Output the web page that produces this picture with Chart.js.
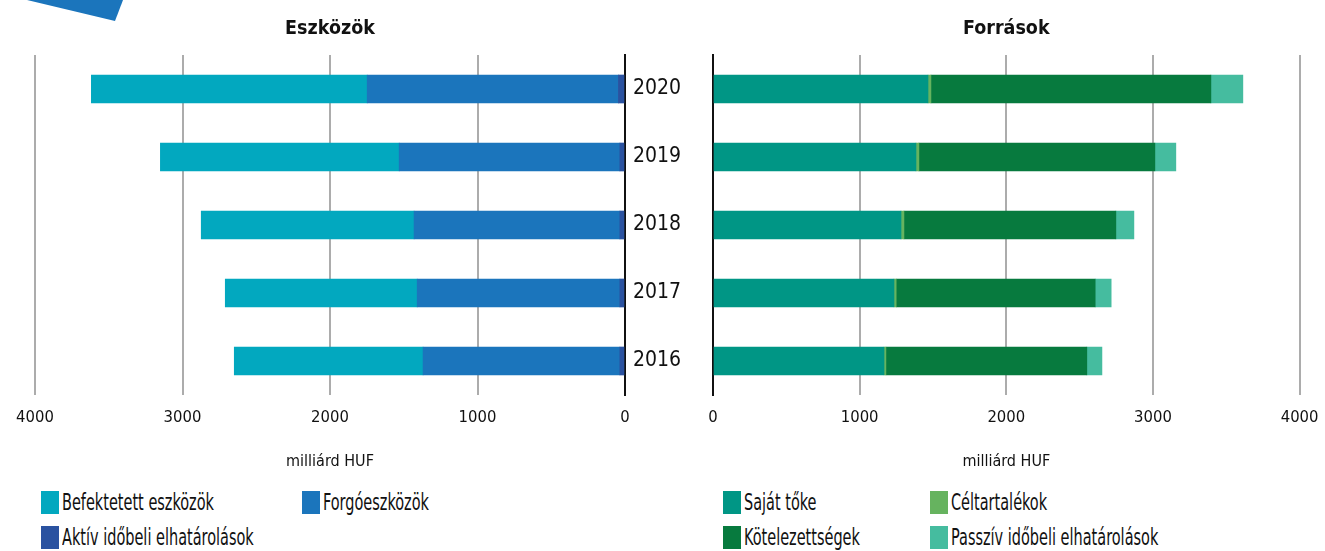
<!DOCTYPE html>
<html>
<head>
<meta charset="utf-8">
<script src="https://cdn.jsdelivr.net/npm/chart.js@4/dist/chart.umd.min.js"></script>
<style>
  html, body { margin: 0; padding: 0; background: #fff; }
  #wrap { position: relative; width: 1325px; height: 551px; overflow: hidden; }
  #left { position: absolute; left: 0; top: 0; }
  #right { position: absolute; left: 663px; top: 0; }
  .leg { position: absolute; display: flex; align-items: center; font-size: 23px; color: #111; white-space: nowrap; }
  .leg i { display: inline-block; width: 18px; height: 23px; margin-right: 3px; }
  .leg span { display: inline-block; transform: scaleX(0.7); transform-origin: left center; }
</style>
</head>
<body>
<div id="wrap">
  <svg width="140" height="30" style="position:absolute;left:0;top:0">
    <polygon points="27,0 123,0 115,21" fill="#1b75bc"/>
  </svg>
  <canvas id="left" width="713" height="480"></canvas>
  <canvas id="right" width="668" height="480"></canvas>
  <div id="legend"></div>
</div>
<script>
const years = ['2020', '2019', '2018', '2017', '2016'];

// Eszközök (milliárd HUF)
const befektetett = [1870, 1619, 1443, 1301, 1280];
const forgo = [1703, 1496, 1395, 1374, 1334];
const aktiv = [45, 35, 35, 35, 35];

// Források (milliárd HUF)
const sajatToke = [1466, 1384, 1282, 1234, 1166];
const celtartalek = [20, 20, 20, 15, 13];
const kotelezettseg = [1909, 1609, 1445, 1357, 1370];
const passziv = [218, 143, 123, 109, 103];

const axisTicks = [0, 1000, 2000, 3000, 4000];
const unit = 'milliárd HUF';

const FONT = "'Liberation Sans Narrow', 'DejaVu Sans Condensed', 'Open Sans', sans-serif";
Chart.defaults.font.family = FONT;
Chart.defaults.color = '#111';

// title centred over the plot area, not the canvas
const panelTitle = {
  id: 'panelTitle',
  afterDraw(chart, args, opts) {
    const { ctx, chartArea } = chart;
    ctx.save();
    ctx.font = 'bold 19.5px ' + FONT;
    ctx.fillStyle = '#111';
    ctx.textAlign = 'center';
    ctx.textBaseline = 'middle';
    ctx.fillText(opts.text, (chartArea.left + chartArea.right) / 2, 29);
    ctx.restore();
  }
};

function makeChart(el, title, datasets, left) {
  return new Chart(el, {
    type: 'bar',
    data: { labels: years, datasets: datasets.map(d => ({
      label: d.label, data: d.data, backgroundColor: d.color,
      borderWidth: 0, barThickness: 28
    })) },
    plugins: [panelTitle],
    options: {
      indexAxis: 'y',
      responsive: false,
      animation: false,
      layout: { padding: left ? { left: 35, top: 55, right: 0, bottom: 0 } : { left: 0, top: 55, right: 0, bottom: 0 } },
      plugins: {
        legend: { display: false },
        tooltip: { enabled: false },
        panelTitle: { text: title }
      },
      scales: {
        x: {
          stacked: true,
          reverse: left,
          min: 0, max: 4000,
          afterBuildTicks: s => { s.ticks = axisTicks.map(v => ({ value: v })); },
          afterFit: s => { s.height = 85; },
          grid: {
            color: c => c.tick && c.tick.value === 0 ? 'rgba(0,0,0,0)' : '#acacac',
            lineWidth: 2,
            drawTicks: false
          },
          border: { display: false },
          ticks: { padding: 12.5, font: { size: 16.5 }, maxRotation: 0, callback: v => String(v) },
          title: { display: true, text: unit, font: { size: 16 }, padding: { top: 0, bottom: 9 } }
        },
        y: {
          stacked: true,
          position: left ? 'right' : 'left',
          afterFit: s => { s.width = left ? 88 : 50; },
          grid: { display: false },
          border: { display: true, color: '#111', width: 2 },
          ticks: { display: left, crossAlign: 'center', padding: 0, font: { size: 21 } }
        }
      }
    }
  });
}

const leftSets = [
  { label: 'Aktív időbeli elhatárolások', data: aktiv, color: '#2a52a0' },
  { label: 'Forgóeszközök', data: forgo, color: '#1b75bc' },
  { label: 'Befektetett eszközök', data: befektetett, color: '#02a8bf' }
];
const rightSets = [
  { label: 'Saját tőke', data: sajatToke, color: '#009685' },
  { label: 'Céltartalékok', data: celtartalek, color: '#66b35f' },
  { label: 'Kötelezettségek', data: kotelezettseg, color: '#077a3e' },
  { label: 'Passzív időbeli elhatárolások', data: passziv, color: '#45bc9f' }
];

makeChart(document.getElementById('left'), 'Eszközök', leftSets, true);
makeChart(document.getElementById('right'), 'Források', rightSets, false);

// legend, laid out like the original (two columns per panel)
const legendItems = [
  { set: leftSets[2], x: 41, y: 489 },
  { set: leftSets[1], x: 302, y: 489 },
  { set: leftSets[0], x: 41, y: 524 },
  { set: rightSets[0], x: 723, y: 489 },
  { set: rightSets[1], x: 930, y: 489 },
  { set: rightSets[2], x: 723, y: 524 },
  { set: rightSets[3], x: 930, y: 524 }
];
const legend = document.getElementById('legend');
legendItems.forEach(it => {
  const d = document.createElement('div');
  d.className = 'leg';
  d.style.left = it.x + 'px';
  d.style.top = it.y + 'px';
  d.style.fontFamily = FONT;
  d.innerHTML = '<i style="background:' + it.set.color + '"></i><span>' + it.set.label + '</span>';
  legend.appendChild(d);
});
</script>
</body>
</html>
